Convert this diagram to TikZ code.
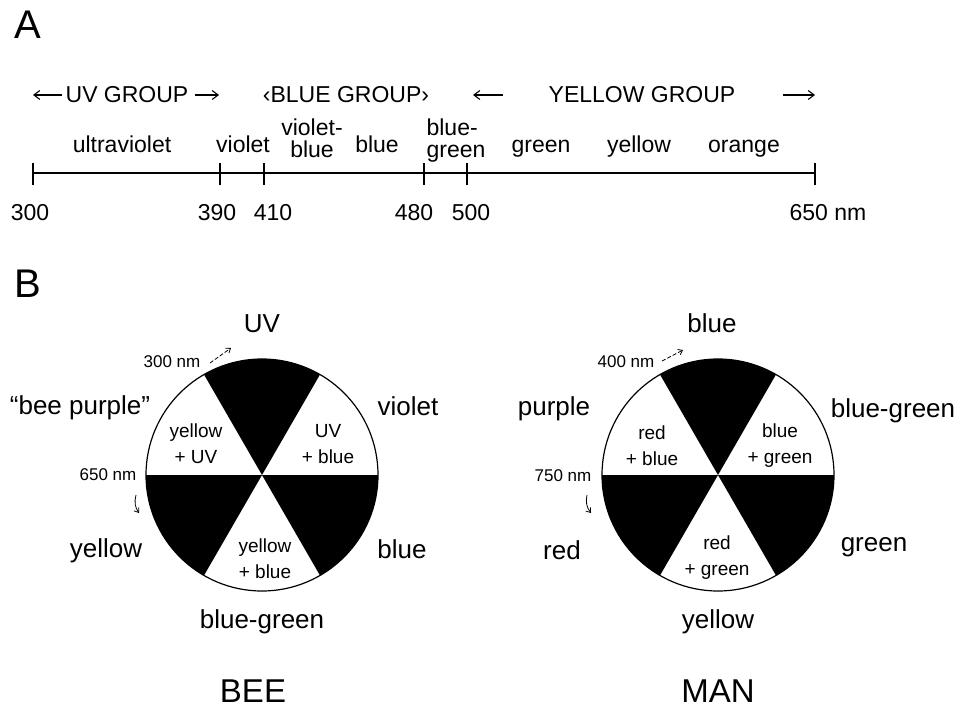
\documentclass[tikz,border=0pt]{standalone}
\usepackage{fontspec}
\setmainfont{Liberation Sans}
\usetikzlibrary{arrows.meta}

\begin{document}
\begin{tikzpicture}[x=0.5pt,y=-0.5pt,
  grp/.style={font=\fontsize{11.5}{12}\selectfont,inner sep=0pt,anchor=base},
  lbl/.style={font=\fontsize{11.5}{11}\selectfont,inner sep=0pt,align=center,anchor=base},
  num/.style={font=\fontsize{11.5}{12}\selectfont,inner sep=0pt,anchor=base},
  outer/.style={font=\fontsize{13}{14}\selectfont,inner sep=0pt,anchor=base},
  mix/.style={font=\fontsize{9.5}{13}\selectfont,inner sep=0pt,align=center,anchor=base},
  nm/.style={font=\fontsize{8.5}{9}\selectfont,inner sep=0pt,anchor=base},
  big/.style={font=\fontsize{16.5}{18}\selectfont,inner sep=0pt,anchor=base},
  panel/.style={font=\fontsize{20}{22}\selectfont,inner sep=0pt,anchor=base},
  arr/.style={-{Straight Barb[length=3pt,width=4.5pt]},line width=0.55pt},
  small arr/.style={-{Straight Barb[length=2pt,width=3pt]},line width=0.4pt}]
  \useasboundingbox (0,0) rectangle (958,706);
  % A: the spectrum
  \node[panel] (pA) at (28,39) {A};
  \node[grp] (uvg) at (127,103) {UV GROUP}; \node[grp] (blueg) at (346,103) {‹BLUE GROUP›}; \node[grp] (yelg) at (642,103) {YELLOW GROUP};
  \coordinate (uv0) at (62,95); \coordinate (uv1) at (33,95); \coordinate (uv2) at (195,95); \coordinate (uv3) at (219,95);
  \coordinate (ye0) at (503,95); \coordinate (ye1) at (473,95); \coordinate (ye2) at (783,95); \coordinate (ye3) at (815,95);
  \draw[arr] (uv0) -- (uv1); \draw[arr] (uv2) -- (uv3); \draw[arr] (ye0) -- (ye1); \draw[arr] (ye2) -- (ye3);
  \node[lbl] (uvl) at (122,153) {ultraviolet}; \node[lbl] (vil) at (243,153) {violet}; \node[lbl] (vbl) at (312,157) {violet-\\blue};
  \node[lbl] (bll) at (377,153) {blue}; \node[lbl,align=left] (bgl) at (456,157) {blue-\\green};
  \node[lbl] (grl) at (541,153) {green}; \node[lbl] (yel) at (639,153) {yellow}; \node[lbl] (orl) at (744,153) {orange};
  \coordinate (ax0) at (33,173); \coordinate (ax1) at (815,173);
  \draw[line width=0.6pt] (ax0) -- (ax1);
  \foreach \x in {33,220,264,424,467,815} \draw[line width=0.6pt] (\x,163) -- (\x,185);
  \node[num] (n300) at (30,220) {300}; \node[num] (n390) at (217,220) {390}; \node[num] (n410) at (273,220) {410};
  \node[num] (n480) at (414,220) {480}; \node[num] (n500) at (471,220) {500}; \node[num] (n650) at (828,220) {650 nm};
  % B: the two colour circles
  \node[panel] (pB) at (28,297) {B};
  \coordinate (bee) at (262,475); \coordinate (man) at (718,475);
  \foreach \c in {bee,man} {
    \foreach \a in {0,120,240} \fill (\c) -- ++(\a:116) arc[start angle=\a,end angle=\a+60,radius=116] -- cycle;
    \draw[line width=0.6pt] (\c) circle[radius=116];
  }
  % bee
  \node[outer] (bUV) at (262,332) {UV}; \node[outer] (bpur) at (80,414) {``bee purple''}; \node[outer] (bvio) at (408,415) {violet};
  \node[outer] (byel) at (106,557) {yellow}; \node[outer] (bblu) at (402,558) {blue}; \node[outer] (bbg) at (262,628) {blue-green};
  \node[mix] (bm1) at (196,463) {yellow\\+ UV}; \node[mix] (bm2) at (328,463) {UV\\+ blue}; \node[mix] (bm3) at (265,578) {yellow\\+ blue};
  \node[nm] (b300) at (172,367) {300 nm}; \node[nm] (b650) at (108,480) {650 nm};
  \coordinate (b3a) at (210,363); \coordinate (b3b) at (231,348); \coordinate (b6a) at (136,495); \coordinate (b6b) at (139,513);
  \draw[small arr,dash pattern=on 2pt off 1pt] (b3a) -- (b3b); \draw[small arr] (b6a) to[bend right=25] (b6b);
  \node[big] (bee name) at (253,702) {BEE};
  % man
  \node[outer] (mblu) at (712,332) {blue}; \node[outer] (mpur) at (554,415) {purple}; \node[outer] (mbg) at (893,417) {blue-green};
  \node[outer] (mred) at (562,559) {red}; \node[outer] (mgre) at (874,551) {green}; \node[outer] (myel) at (718,628) {yellow};
  \node[mix] (mm1) at (652,465) {red\\+ blue}; \node[mix] (mm2) at (780,463) {blue\\+ green}; \node[mix] (mm3) at (717,575) {red\\+ green};
  \node[nm] (m400) at (626,367) {400 nm}; \node[nm] (m750) at (563,481) {750 nm};
  \coordinate (m4a) at (662,361); \coordinate (m4b) at (683,350); \coordinate (m7a) at (587,495); \coordinate (m7b) at (591,513);
  \draw[small arr,dash pattern=on 2pt off 1pt] (m4a) -- (m4b); \draw[small arr] (m7a) to[bend right=25] (m7b);
  \node[big] (man name) at (718,702) {MAN};
\end{tikzpicture}
\end{document}
